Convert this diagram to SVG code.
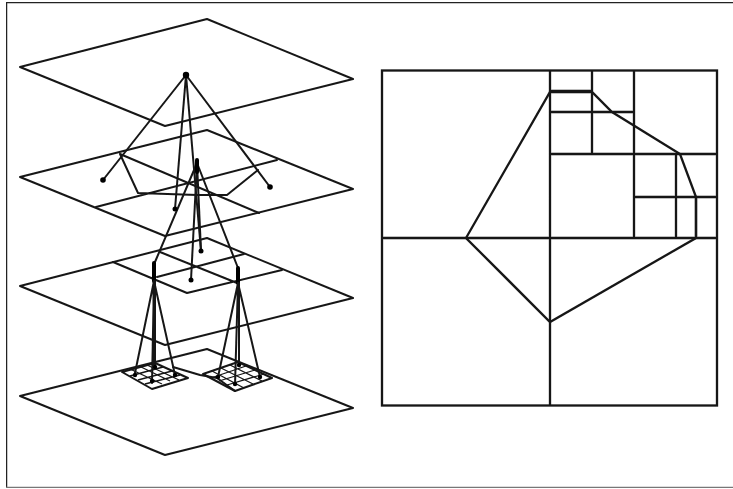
<svg xmlns="http://www.w3.org/2000/svg" width="733" height="489" viewBox="0 0 733 489">
<style>
.l{fill:none;stroke:#161616;stroke-width:2;stroke-linejoin:round;stroke-linecap:round}
.t{fill:none;stroke:#161616;stroke-width:1.300}
.r{fill:none;stroke:#161616;stroke-width:2.300}
.k{fill:none;stroke:#000;stroke-width:4;stroke-linecap:round}
.d{fill:#000}
</style>
<defs><filter id="soft" x="0" y="0" width="100%" height="100%"><feGaussianBlur stdDeviation="0.550"/></filter></defs>
<rect width="733" height="489" fill="#fff"/>
<g filter="url(#soft)">
<path d="M6.500 487V2.500H733" fill="none" stroke="#222" stroke-width="1.500"/>
<path d="M6 487.500H733" fill="none" stroke="#777" stroke-width="1.500"/>
<g id="plane1"><path class="l" d="M20 67L207 19L353 79L165 126Z"/></g>
<g id="plane2">
<path class="l" d="M20 177L207 130L353 189L165 236Z"/>
<path class="l" d="M96 207L277 160M120 154L259 213M120 154L138 193L197 195L227 195L258 170"/>
</g>
<g id="plane3">
<path class="l" d="M20 286L207 238L353 298L165 345Z"/>
<path class="l" d="M113 262L187 293L282 270M160 252L237 283M157 277L244 254"/>
</g>
<g id="plane4">
<path class="l" d="M20 396L207 349L353 408L165 455Z"/>
<path class="l" d="M173 367L200 375L217 378L235 391"/>
</g>
<g id="grid-left">
<path class="l" d="M122 372L155 363L188 378L152 389Z"/>
<path class="t" d="M130 376L163 367M138 380L172 371M145 384L180 375M130 369L162 384M139 366L170 381M147 365L179 380"/>
</g>
<g id="grid-right">
<path class="l" d="M203 374L238 362L272 378L235 391Z"/>
<path class="t" d="M211 378L246 366M219 381L255 370M227 385L264 374M212 371L244 388M221 368L253 384M230 365L262 381"/>
</g>
<g id="connectors">
<path class="l" d="M186 75L103 180M186 75L270 187M186 75L175 209M186 75L201 251"/>
<path class="l" d="M197 163L155 262M197 163L191 280M197 163L201 251M197 163L238 268"/>
<path class="k" d="M197 160L197 172M154 263L154 281M238 268L238 283"/>
<path class="l" d="M154 281L135 373M154 281L152 383M154 281L175 375M155 281L155 365M153.500 281L153.500 365"/>
<path class="l" d="M238 283L218 377M238 283L235 385M238 283L260 377M239 283L239 363"/>
<g class="d">
<circle cx="186" cy="75" r="3.200"/><circle cx="103" cy="180" r="2.800"/><circle cx="270" cy="187" r="2.800"/>
<circle cx="175" cy="209" r="2.500"/><circle cx="201" cy="251" r="2.500"/><circle cx="191" cy="280" r="2.500"/>
<circle cx="135" cy="375" r="2.200"/><circle cx="152" cy="381" r="2.200"/><circle cx="175" cy="375" r="2.200"/><circle cx="155" cy="367" r="2.200"/>
<circle cx="218" cy="377" r="2.200"/><circle cx="235" cy="384" r="2.200"/><circle cx="260" cy="377" r="2.200"/><circle cx="239" cy="365" r="2.200"/>
</g>
</g>
<g id="quadtree">
<rect class="r" x="382" y="70.500" width="335" height="335"/>
<path class="r" d="M550 70V405M382 238H717M550 154H717M634 70V238M550 112H634M550 91H592M592 70V154M634 197H717M676 154V238M696 197V238"/>
<path class="r" d="M550 92L592 92L612 112L680 154L696 197L696 238L550 322L466 238Z"/>
</g>
</g>
</svg>
